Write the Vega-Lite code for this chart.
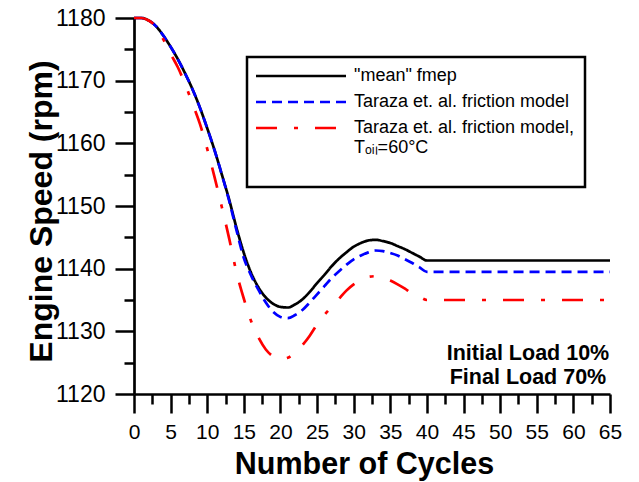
{
  "$schema": "https://vega.github.io/schema/vega-lite/v6.json",
  "width": 476,
  "height": 376,
  "autosize": {"type": "none"},
  "padding": {"left": 134, "top": 18, "right": 29, "bottom": 88},
  "background": "white",
  "config": {
    "view": {"stroke": null},
    "axis": {
      "domainColor": "black", "domainWidth": 2.7, "tickColor": "black", "tickWidth": 2.5,
      "labelFont": "Liberation Sans", "labelColor": "black", "titleFont": "Liberation Sans",
      "titleFontWeight": "bold", "titleColor": "black", "grid": false,
      "labelOverlap": false, "labelFlush": false, "labelBound": false
    },
    "legend": {"strokeWidth": 2.5}
  },
  "layer": [
    {
      "data": {"values": [
        {"series": "\"mean\" fmep", "cycle": 0, "rpm": 1180},
        {"series": "\"mean\" fmep", "cycle": 1, "rpm": 1180},
        {"series": "\"mean\" fmep", "cycle": 2, "rpm": 1179.6},
        {"series": "\"mean\" fmep", "cycle": 3, "rpm": 1178.7},
        {"series": "\"mean\" fmep", "cycle": 4, "rpm": 1177.2},
        {"series": "\"mean\" fmep", "cycle": 5, "rpm": 1175.4},
        {"series": "\"mean\" fmep", "cycle": 6, "rpm": 1173.4},
        {"series": "\"mean\" fmep", "cycle": 7, "rpm": 1171.1},
        {"series": "\"mean\" fmep", "cycle": 8, "rpm": 1168.6},
        {"series": "\"mean\" fmep", "cycle": 9, "rpm": 1165.7},
        {"series": "\"mean\" fmep", "cycle": 10, "rpm": 1162.4},
        {"series": "\"mean\" fmep", "cycle": 11, "rpm": 1158.9},
        {"series": "\"mean\" fmep", "cycle": 12, "rpm": 1155},
        {"series": "\"mean\" fmep", "cycle": 13, "rpm": 1151},
        {"series": "\"mean\" fmep", "cycle": 14, "rpm": 1146.5},
        {"series": "\"mean\" fmep", "cycle": 15, "rpm": 1142.5},
        {"series": "\"mean\" fmep", "cycle": 16, "rpm": 1139.3},
        {"series": "\"mean\" fmep", "cycle": 17, "rpm": 1137},
        {"series": "\"mean\" fmep", "cycle": 18, "rpm": 1135.4},
        {"series": "\"mean\" fmep", "cycle": 19, "rpm": 1134.4},
        {"series": "\"mean\" fmep", "cycle": 20, "rpm": 1133.9},
        {"series": "\"mean\" fmep", "cycle": 21, "rpm": 1133.8},
        {"series": "\"mean\" fmep", "cycle": 22, "rpm": 1134.3},
        {"series": "\"mean\" fmep", "cycle": 23, "rpm": 1135.1},
        {"series": "\"mean\" fmep", "cycle": 24, "rpm": 1136.3},
        {"series": "\"mean\" fmep", "cycle": 25, "rpm": 1137.7},
        {"series": "\"mean\" fmep", "cycle": 26, "rpm": 1139},
        {"series": "\"mean\" fmep", "cycle": 27, "rpm": 1140.4},
        {"series": "\"mean\" fmep", "cycle": 28, "rpm": 1141.6},
        {"series": "\"mean\" fmep", "cycle": 29, "rpm": 1142.6},
        {"series": "\"mean\" fmep", "cycle": 30, "rpm": 1143.5},
        {"series": "\"mean\" fmep", "cycle": 31, "rpm": 1144.1},
        {"series": "\"mean\" fmep", "cycle": 32, "rpm": 1144.5},
        {"series": "\"mean\" fmep", "cycle": 33, "rpm": 1144.6},
        {"series": "\"mean\" fmep", "cycle": 34, "rpm": 1144.4},
        {"series": "\"mean\" fmep", "cycle": 35, "rpm": 1144.1},
        {"series": "\"mean\" fmep", "cycle": 36, "rpm": 1143.6},
        {"series": "\"mean\" fmep", "cycle": 37, "rpm": 1143.1},
        {"series": "\"mean\" fmep", "cycle": 38, "rpm": 1142.5},
        {"series": "\"mean\" fmep", "cycle": 39, "rpm": 1141.9},
        {"series": "\"mean\" fmep", "cycle": 40, "rpm": 1141.3},
        {"series": "\"mean\" fmep", "cycle": 65, "rpm": 1141.3},
        {"series": "Taraza et. al. friction model", "cycle": 0, "rpm": 1180},
        {"series": "Taraza et. al. friction model", "cycle": 1, "rpm": 1180},
        {"series": "Taraza et. al. friction model", "cycle": 2, "rpm": 1179.6},
        {"series": "Taraza et. al. friction model", "cycle": 3, "rpm": 1178.7},
        {"series": "Taraza et. al. friction model", "cycle": 4, "rpm": 1177.2},
        {"series": "Taraza et. al. friction model", "cycle": 5, "rpm": 1175.4},
        {"series": "Taraza et. al. friction model", "cycle": 6, "rpm": 1173.4},
        {"series": "Taraza et. al. friction model", "cycle": 7, "rpm": 1171.1},
        {"series": "Taraza et. al. friction model", "cycle": 8, "rpm": 1168.6},
        {"series": "Taraza et. al. friction model", "cycle": 9, "rpm": 1165.7},
        {"series": "Taraza et. al. friction model", "cycle": 10, "rpm": 1162.4},
        {"series": "Taraza et. al. friction model", "cycle": 11, "rpm": 1158.9},
        {"series": "Taraza et. al. friction model", "cycle": 12, "rpm": 1155},
        {"series": "Taraza et. al. friction model", "cycle": 13, "rpm": 1150.8},
        {"series": "Taraza et. al. friction model", "cycle": 14, "rpm": 1146.1},
        {"series": "Taraza et. al. friction model", "cycle": 15, "rpm": 1141.7},
        {"series": "Taraza et. al. friction model", "cycle": 16, "rpm": 1138.9},
        {"series": "Taraza et. al. friction model", "cycle": 17, "rpm": 1136.6},
        {"series": "Taraza et. al. friction model", "cycle": 18, "rpm": 1134.6},
        {"series": "Taraza et. al. friction model", "cycle": 19, "rpm": 1133.1},
        {"series": "Taraza et. al. friction model", "cycle": 20, "rpm": 1132.3},
        {"series": "Taraza et. al. friction model", "cycle": 21, "rpm": 1132.1},
        {"series": "Taraza et. al. friction model", "cycle": 22, "rpm": 1132.6},
        {"series": "Taraza et. al. friction model", "cycle": 23, "rpm": 1133.4},
        {"series": "Taraza et. al. friction model", "cycle": 24, "rpm": 1134.6},
        {"series": "Taraza et. al. friction model", "cycle": 25, "rpm": 1135.9},
        {"series": "Taraza et. al. friction model", "cycle": 26, "rpm": 1137.2},
        {"series": "Taraza et. al. friction model", "cycle": 27, "rpm": 1138.5},
        {"series": "Taraza et. al. friction model", "cycle": 28, "rpm": 1139.6},
        {"series": "Taraza et. al. friction model", "cycle": 29, "rpm": 1140.6},
        {"series": "Taraza et. al. friction model", "cycle": 30, "rpm": 1141.5},
        {"series": "Taraza et. al. friction model", "cycle": 31, "rpm": 1142.1},
        {"series": "Taraza et. al. friction model", "cycle": 32, "rpm": 1142.6},
        {"series": "Taraza et. al. friction model", "cycle": 33, "rpm": 1142.9},
        {"series": "Taraza et. al. friction model", "cycle": 34, "rpm": 1142.8},
        {"series": "Taraza et. al. friction model", "cycle": 35, "rpm": 1142.5},
        {"series": "Taraza et. al. friction model", "cycle": 36, "rpm": 1142.1},
        {"series": "Taraza et. al. friction model", "cycle": 37, "rpm": 1141.5},
        {"series": "Taraza et. al. friction model", "cycle": 38, "rpm": 1140.9},
        {"series": "Taraza et. al. friction model", "cycle": 39, "rpm": 1140.2},
        {"series": "Taraza et. al. friction model", "cycle": 40, "rpm": 1139.5},
        {"series": "Taraza et. al. friction model", "cycle": 65, "rpm": 1139.5},
        {"series": "Taraza et. al. friction model, Tₒᵢₗ=60°C", "cycle": 0, "rpm": 1180},
        {"series": "Taraza et. al. friction model, Tₒᵢₗ=60°C", "cycle": 1, "rpm": 1180},
        {"series": "Taraza et. al. friction model, Tₒᵢₗ=60°C", "cycle": 2, "rpm": 1179.6},
        {"series": "Taraza et. al. friction model, Tₒᵢₗ=60°C", "cycle": 3, "rpm": 1178.6},
        {"series": "Taraza et. al. friction model, Tₒᵢₗ=60°C", "cycle": 4, "rpm": 1176.6},
        {"series": "Taraza et. al. friction model, Tₒᵢₗ=60°C", "cycle": 5, "rpm": 1174.3},
        {"series": "Taraza et. al. friction model, Tₒᵢₗ=60°C", "cycle": 6, "rpm": 1172.1},
        {"series": "Taraza et. al. friction model, Tₒᵢₗ=60°C", "cycle": 7, "rpm": 1169.4},
        {"series": "Taraza et. al. friction model, Tₒᵢₗ=60°C", "cycle": 8, "rpm": 1166.3},
        {"series": "Taraza et. al. friction model, Tₒᵢₗ=60°C", "cycle": 9, "rpm": 1163.1},
        {"series": "Taraza et. al. friction model, Tₒᵢₗ=60°C", "cycle": 10, "rpm": 1159.1},
        {"series": "Taraza et. al. friction model, Tₒᵢₗ=60°C", "cycle": 11, "rpm": 1154.6},
        {"series": "Taraza et. al. friction model, Tₒᵢₗ=60°C", "cycle": 12, "rpm": 1149.8},
        {"series": "Taraza et. al. friction model, Tₒᵢₗ=60°C", "cycle": 13, "rpm": 1144.8},
        {"series": "Taraza et. al. friction model, Tₒᵢₗ=60°C", "cycle": 14, "rpm": 1139.4},
        {"series": "Taraza et. al. friction model, Tₒᵢₗ=60°C", "cycle": 15, "rpm": 1135.2},
        {"series": "Taraza et. al. friction model, Tₒᵢₗ=60°C", "cycle": 16, "rpm": 1131.6},
        {"series": "Taraza et. al. friction model, Tₒᵢₗ=60°C", "cycle": 17, "rpm": 1129},
        {"series": "Taraza et. al. friction model, Tₒᵢₗ=60°C", "cycle": 18, "rpm": 1127.1},
        {"series": "Taraza et. al. friction model, Tₒᵢₗ=60°C", "cycle": 19, "rpm": 1126},
        {"series": "Taraza et. al. friction model, Tₒᵢₗ=60°C", "cycle": 20, "rpm": 1125.6},
        {"series": "Taraza et. al. friction model, Tₒᵢₗ=60°C", "cycle": 21, "rpm": 1125.8},
        {"series": "Taraza et. al. friction model, Tₒᵢₗ=60°C", "cycle": 22, "rpm": 1126.6},
        {"series": "Taraza et. al. friction model, Tₒᵢₗ=60°C", "cycle": 23, "rpm": 1127.8},
        {"series": "Taraza et. al. friction model, Tₒᵢₗ=60°C", "cycle": 24, "rpm": 1129.3},
        {"series": "Taraza et. al. friction model, Tₒᵢₗ=60°C", "cycle": 25, "rpm": 1131.1},
        {"series": "Taraza et. al. friction model, Tₒᵢₗ=60°C", "cycle": 26, "rpm": 1132.6},
        {"series": "Taraza et. al. friction model, Tₒᵢₗ=60°C", "cycle": 27, "rpm": 1133.9},
        {"series": "Taraza et. al. friction model, Tₒᵢₗ=60°C", "cycle": 28, "rpm": 1135.2},
        {"series": "Taraza et. al. friction model, Tₒᵢₗ=60°C", "cycle": 29, "rpm": 1136.5},
        {"series": "Taraza et. al. friction model, Tₒᵢₗ=60°C", "cycle": 30, "rpm": 1137.5},
        {"series": "Taraza et. al. friction model, Tₒᵢₗ=60°C", "cycle": 31, "rpm": 1138.2},
        {"series": "Taraza et. al. friction model, Tₒᵢₗ=60°C", "cycle": 32, "rpm": 1138.7},
        {"series": "Taraza et. al. friction model, Tₒᵢₗ=60°C", "cycle": 33, "rpm": 1138.8},
        {"series": "Taraza et. al. friction model, Tₒᵢₗ=60°C", "cycle": 34, "rpm": 1138.5},
        {"series": "Taraza et. al. friction model, Tₒᵢₗ=60°C", "cycle": 35, "rpm": 1138.1},
        {"series": "Taraza et. al. friction model, Tₒᵢₗ=60°C", "cycle": 36, "rpm": 1137.5},
        {"series": "Taraza et. al. friction model, Tₒᵢₗ=60°C", "cycle": 37, "rpm": 1136.8},
        {"series": "Taraza et. al. friction model, Tₒᵢₗ=60°C", "cycle": 38, "rpm": 1136},
        {"series": "Taraza et. al. friction model, Tₒᵢₗ=60°C", "cycle": 39, "rpm": 1135.5},
        {"series": "Taraza et. al. friction model, Tₒᵢₗ=60°C", "cycle": 40, "rpm": 1135},
        {"series": "Taraza et. al. friction model, Tₒᵢₗ=60°C", "cycle": 65, "rpm": 1135}
      ]},
      "mark": {"type": "line", "interpolate": "monotone", "strokeWidth": 2.7, "clip": false},
      "encoding": {
        "x": {
          "field": "cycle", "type": "quantitative",
          "scale": {"domain": [0, 65], "nice": false, "zero": false},
          "axis": {
            "values": [0,2.5,5,7.5,10,12.5,15,17.5,20,22.5,25,27.5,30,32.5,35,37.5,40,42.5,45,47.5,50,52.5,55,57.5,60,62.5,65],
            "tickSize": {"condition": {"test": "datum.value % 5 === 0", "value": 19}, "value": 10},
            "labelExpr": "datum.value % 5 === 0 ? datum.label : ''",
            "format": "d",
            "labelFontSize": 21, "labelPadding": 8,
            "title": "Number of Cycles", "titleFontSize": 30.5, "titlePadding": 7, "titleX": 230
          }
        },
        "y": {
          "field": "rpm", "type": "quantitative",
          "scale": {"domain": [1120, 1180], "nice": false, "zero": false},
          "axis": {
            "values": [1120,1125,1130,1135,1140,1145,1150,1155,1160,1165,1170,1175,1180],
            "tickSize": {"condition": {"test": "datum.value % 10 === 0", "value": 19}, "value": 10},
            "labelExpr": "datum.value % 10 === 0 ? datum.label : ''",
            "format": "d",
            "labelFontSize": 23, "labelPadding": 10,
            "title": "Engine Speed (rpm)", "titleFontSize": 32, "titlePadding": -3, "titleY": 193
          }
        },
        "color": {
          "field": "series", "type": "nominal",
          "scale": {
            "domain": ["\"mean\" fmep", "Taraza et. al. friction model", "Taraza et. al. friction model, Tₒᵢₗ=60°C"],
            "range": ["#000000", "#0000ff", "#ff0000"]
          },
          "legend": {
            "title": null, "orient": "none", "legendX": 113, "legendY": 39,
            "symbolType": "M-10,0H80", "symbolSize": 4, "symbolStrokeWidth": 2.7,
            "labelFont": "Liberation Sans", "labelFontSize": 18, "labelColor": "black",
            "labelOffset": 79, "labelLimit": 400, "rowPadding": 8, "padding": 10,
            "strokeColor": "black",
            "labelExpr": "indexof(datum.label, ',') > 0 ? [slice(datum.label, 0, indexof(datum.label, ',') + 1), slice(datum.label, indexof(datum.label, ',') + 2), ''] : datum.label"
          }
        },
        "strokeDash": {
          "field": "series", "type": "nominal",
          "scale": {
            "domain": ["\"mean\" fmep", "Taraza et. al. friction model", "Taraza et. al. friction model, Tₒᵢₗ=60°C"],
            "range": [[1, 0], [10, 6], [21, 17, 4, 17]]
          },
          "legend": {
            "title": null, "orient": "none", "legendX": 113, "legendY": 39,
            "symbolType": "M-10,0H80", "symbolSize": 4, "symbolStrokeWidth": 2.7,
            "labelFont": "Liberation Sans", "labelFontSize": 18, "labelColor": "black",
            "labelOffset": 79, "labelLimit": 400, "rowPadding": 8, "padding": 10,
            "strokeColor": "black",
            "labelExpr": "indexof(datum.label, ',') > 0 ? [slice(datum.label, 0, indexof(datum.label, ',') + 1), slice(datum.label, indexof(datum.label, ',') + 2), ''] : datum.label"
          }
        }
      }
    },
    {
      "data": {"values": [{"note": "load"}]},
      "mark": {"type": "text", "font": "Liberation Sans", "fontWeight": "bold", "fontSize": 21.5, "align": "center", "baseline": "alphabetic", "lineHeight": 24, "color": "black"},
      "encoding": {
        "x": {
          "datum": 53.8, "type": "quantitative",
          "axis": {
            "values": [0,2.5,5,7.5,10,12.5,15,17.5,20,22.5,25,27.5,30,32.5,35,37.5,40,42.5,45,47.5,50,52.5,55,57.5,60,62.5,65],
            "tickSize": {"condition": {"test": "datum.value % 5 === 0", "value": 19}, "value": 10},
            "labelExpr": "datum.value % 5 === 0 ? datum.label : ''",
            "format": "d",
            "labelFontSize": 21, "labelPadding": 8,
            "title": "Number of Cycles", "titleFontSize": 30.5, "titlePadding": 7, "titleX": 230
          }
        },
        "y": {
          "datum": 1125.5, "type": "quantitative",
          "axis": {
            "values": [1120,1125,1130,1135,1140,1145,1150,1155,1160,1165,1170,1175,1180],
            "tickSize": {"condition": {"test": "datum.value % 10 === 0", "value": 19}, "value": 10},
            "labelExpr": "datum.value % 10 === 0 ? datum.label : ''",
            "format": "d",
            "labelFontSize": 23, "labelPadding": 10,
            "title": "Engine Speed (rpm)", "titleFontSize": 32, "titlePadding": -3, "titleY": 193
          }
        },
        "text": {"value": ["Initial Load 10%", "Final Load 70%"]}
      }
    }
  ]
}
